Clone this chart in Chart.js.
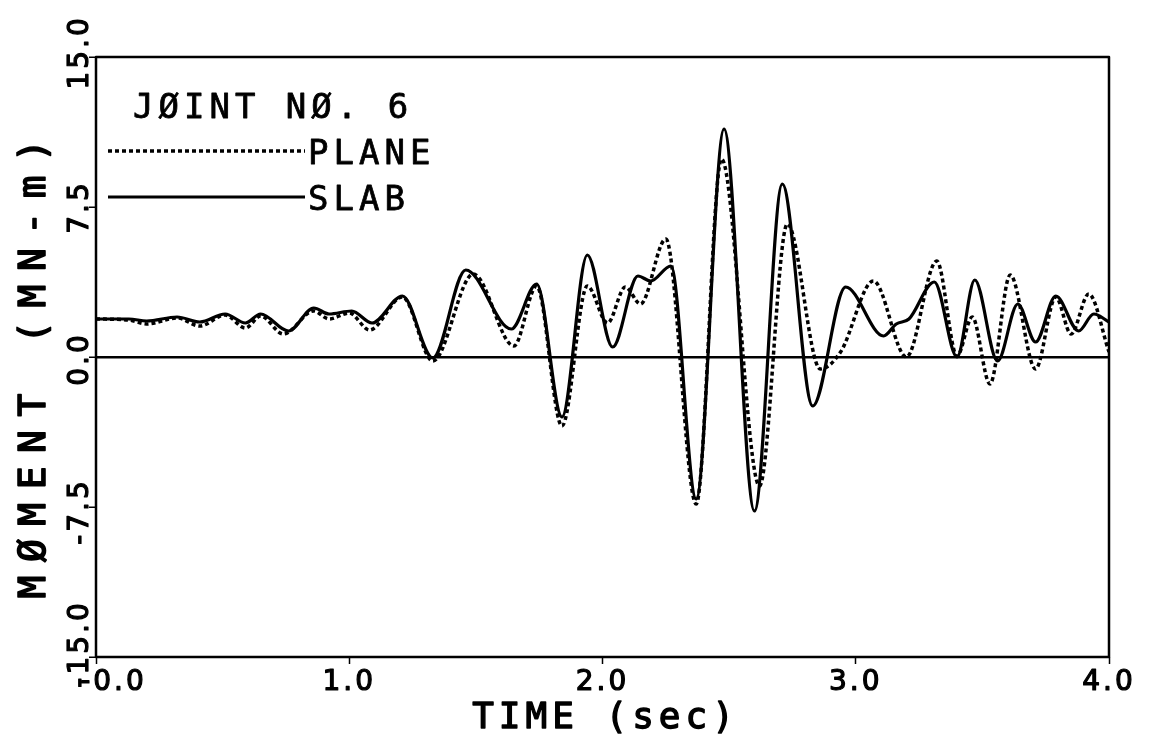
<!DOCTYPE html>
<html>
<head>
<meta charset="utf-8">
<script src="https://cdn.jsdelivr.net/npm/chart.js@4"></script>
<style>
  html, body { margin: 0; padding: 0; background: #fff; }
  #wrap { width: 1150px; height: 738px; }
</style>
</head>
<body>
<div id="wrap"><canvas id="grafico" width="1150" height="738"></canvas></div>
<script>
// valores (tempo em s, momento em MN-m)
const tempoPlane = [0, 0.13, 0.2, 0.32, 0.41, 0.51, 0.59, 0.65, 0.74, 0.86, 0.92, 1.0, 1.08, 1.21, 1.33, 1.49, 1.65, 1.74, 1.84, 1.94, 2.02, 2.09, 2.15, 2.25, 2.37, 2.47, 2.62, 2.73, 2.86, 2.94, 3.07, 3.2, 3.32, 3.4, 3.46, 3.53, 3.61, 3.71, 3.79, 3.85, 3.92, 4.0];
const momentoPlane = [1.9, 1.85, 1.65, 1.95, 1.55, 2.1, 1.45, 2.05, 1.15, 2.3, 1.9, 2.2, 1.35, 3.0, -0.2, 4.15, 0.55, 3.55, -3.45, 3.55, 1.7, 3.5, 2.65, 5.9, -7.35, 9.9, -6.45, 6.65, -0.6, 0.25, 3.8, 0.0, 4.8, 0.05, 2.0, -1.35, 4.1, -0.6, 3.0, 1.15, 3.15, 0.25];

const tempoSlab = [0, 0.13, 0.2, 0.32, 0.41, 0.51, 0.59, 0.65, 0.76, 0.86, 0.92, 1.01, 1.09, 1.21, 1.33, 1.46, 1.64, 1.74, 1.84, 1.94, 2.04, 2.14, 2.19, 2.27, 2.37, 2.48, 2.6, 2.71, 2.83, 2.96, 3.11, 3.16, 3.21, 3.31, 3.4, 3.47, 3.56, 3.64, 3.71, 3.79, 3.88, 3.94, 4.0];
const momentoSlab = [1.9, 1.9, 1.8, 2.0, 1.75, 2.15, 1.7, 2.15, 1.3, 2.45, 2.15, 2.3, 1.7, 3.05, -0.05, 4.35, 1.4, 3.65, -3.0, 5.1, 0.5, 4.05, 3.8, 4.55, -7.1, 11.4, -7.7, 8.65, -2.45, 3.5, 1.05, 1.65, 1.9, 3.75, 0.0, 3.85, -0.2, 2.65, 0.75, 3.05, 1.3, 2.15, 1.75];

const nomesSeries = ['PLANE', 'SLAB'];
const xTickValores = [0, 1, 2, 3, 4];
const xTickLabels = ['-0.0', '1.0', '2.0', '3.0', '4.0'];
const yTickValores = [-15, -7.5, 0, 7.5, 15];
const yTickLabels = ['-15.0', '-7.5', '0.0', '7.5', '15.0'];
const tituloGrafico = 'JØINT NØ. 6';
const tituloX = 'TIME (sec)';
const tituloY = 'MØMENT (MN-m)';

const MONO = '"DejaVu Sans Mono", monospace';
const SANS = '"DejaVu Sans", sans-serif';

// monta os pontos {x, y} a partir dos arrays
function pontos(ts, vs) {
  return ts.map((t, i) => ({ x: t, y: vs[i] }));
}

// distância do início do texto até o centro do ponto decimal
function centroPonto(ctx, txt) {
  const k = txt.indexOf('.');
  const antes = ctx.measureText(txt.slice(0, k)).width;
  const ponto = ctx.measureText('.').width;
  return antes + ponto / 2;
}

// texto um pouco mais grosso (traço de plotter)
function escreve(ctx, txt, x, y, traco) {
  ctx.fillText(txt, x, y);
  ctx.lineWidth = traco;
  ctx.strokeText(txt, x, y);
}

// desenha moldura, rótulos, título e legenda
const textos = {
  id: 'textos',
  afterDraw(chart) {
    const { ctx, chartArea: a, scales } = chart;
    const sx = scales.x, sy = scales.y;
    ctx.save();
    ctx.fillStyle = '#000';
    ctx.strokeStyle = '#000';
    ctx.lineJoin = 'round';

    // moldura
    ctx.lineWidth = 2.5;
    ctx.strokeRect(a.left, a.top, a.right - a.left, a.bottom - a.top);

    // rótulos do eixo x (ponto decimal sob o tick)
    ctx.font = '28px ' + SANS;
    ctx.letterSpacing = '3px';
    ctx.textAlign = 'left';
    ctx.textBaseline = 'alphabetic';
    sx.ticks.forEach((tk, i) => {
      const px = sx.getPixelForValue(tk.value) + (i === 0 ? 24 : 0);
      escreve(ctx, xTickLabels[i], px - centroPonto(ctx, xTickLabels[i]), 690, 1.2);
    });

    // rótulos do eixo y (girados, ponto decimal no tick)
    const ajusteY = [-30, -2, 2, 0, -15];
    sy.ticks.forEach((tk, i) => {
      const py = sy.getPixelForValue(tk.value) + ajusteY[i];
      ctx.save();
      ctx.translate(88, py);
      ctx.rotate(-Math.PI / 2);
      escreve(ctx, yTickLabels[i], -centroPonto(ctx, yTickLabels[i]), 0, 1.2);
      ctx.restore();
    });

    // título do eixo x
    ctx.font = '36px ' + MONO;
    ctx.letterSpacing = '5px';
    ctx.textAlign = 'center';
    escreve(ctx, tituloX, (a.left + a.right) / 2 + 3, 728, 1.4);

    // título do eixo y
    ctx.save();
    ctx.font = '38px ' + MONO;
    ctx.letterSpacing = '13.5px';
    ctx.translate(45, 362);
    ctx.rotate(-Math.PI / 2);
    escreve(ctx, tituloY, 0, 0, 1.6);
    ctx.restore();

    // título e legenda dentro do gráfico
    ctx.font = '34px ' + MONO;
    ctx.letterSpacing = '5px';
    ctx.textAlign = 'left';
    escreve(ctx, tituloGrafico, 133, 118, 0.8);

    const linhasLeg = [151, 197];
    chart.data.datasets.forEach((ds, i) => {
      ctx.beginPath();
      ctx.lineWidth = ds.borderWidth;
      ctx.setLineDash(ds.borderDash || []);
      ctx.moveTo(108, linhasLeg[i]);
      ctx.lineTo(305, linhasLeg[i]);
      ctx.stroke();
      ctx.setLineDash([]);
      escreve(ctx, ds.label, 308, linhasLeg[i] + 13, 0.8);
    });
    ctx.restore();
  }
};

const ctx = document.getElementById('grafico').getContext('2d');
const grafico = new Chart(ctx, {
  type: 'line',
  data: {
    datasets: [
      {
        label: nomesSeries[0],
        data: pontos(tempoPlane, momentoPlane),
        borderColor: '#000',
        borderWidth: 3.5,
        borderDash: [4, 3],
        cubicInterpolationMode: 'monotone',
        pointRadius: 0,
        fill: false
      },
      {
        label: nomesSeries[1],
        data: pontos(tempoSlab, momentoSlab),
        borderColor: '#000',
        borderWidth: 3.2,
        cubicInterpolationMode: 'monotone',
        pointRadius: 0,
        fill: false
      }
    ]
  },
  options: {
    responsive: false,
    animation: false,
    events: [],
    layout: { padding: { left: 0, top: 57, right: 41, bottom: 0 } },
    plugins: { legend: { display: false }, tooltip: { enabled: false } },
    scales: {
      x: {
        type: 'linear',
        min: 0,
        max: 4,
        afterBuildTicks: s => { s.ticks = xTickValores.map(v => ({ value: v })); },
        afterFit: s => { s.height = 81; },
        ticks: { display: false },
        border: { display: false },
        grid: { drawOnChartArea: false, drawTicks: true, tickLength: 7, tickColor: '#000', tickWidth: 1.5 }
      },
      y: {
        type: 'linear',
        min: -15,
        max: 15,
        afterBuildTicks: s => { s.ticks = yTickValores.map(v => ({ value: v })); },
        afterFit: s => { s.width = 96; },
        ticks: { display: false },
        border: { display: false },
        grid: {
          color: c => (c.tick && c.tick.value === 0 ? '#000' : 'rgba(0,0,0,0)'),
          lineWidth: 2.5,
          drawTicks: true,
          tickLength: 7,
          tickColor: '#000',
          tickWidth: 1.5
        }
      }
    }
  },
  plugins: [textos]
});
</script>
</body>
</html>
